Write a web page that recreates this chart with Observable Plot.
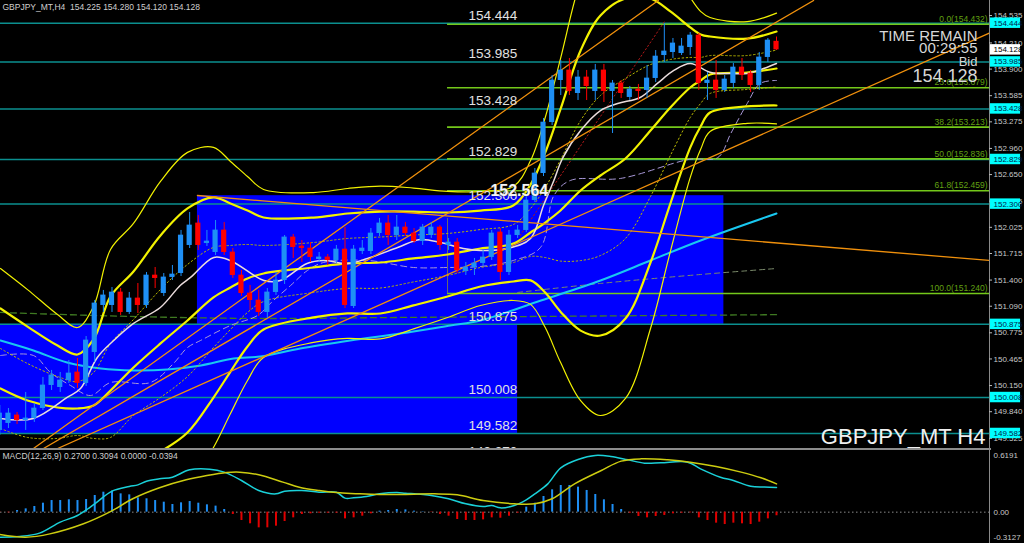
<!DOCTYPE html>
<html><head><meta charset="utf-8">
<script src="https://cdn.jsdelivr.net/npm/d3@7"></script>
<script src="https://cdn.jsdelivr.net/npm/@observablehq/plot@0.6"></script>
<style>
html,body{margin:0;padding:0;background:#000;}
#chart{position:relative;width:1024px;height:543px;overflow:hidden;background:#000;}
#chart svg{display:block;}
</style></head><body><div id="chart"></div>
<script>
// ---------- candles (H4) ----------
const opens  = [149.618,149.701,149.796,149.736,149.760,149.878,150.151,150.127,150.210,150.305,150.175,150.542,151.099,151.099,151.253,151.016,151.182,151.099,151.454,151.241,151.431,151.478,151.810,152.071,151.833,151.727,151.988,151.727,151.454,151.241,151.158,151.016,151.253,151.395,151.905,151.798,151.774,151.644,151.668,151.632,151.762,151.087,151.739,151.739,151.952,152.071,151.928,152.023,151.952,151.857,151.928,152.023,151.810,151.845,151.502,151.549,151.597,151.668,151.964,151.490,151.928,151.988,152.343,152.663,153.267,153.765,153.884,153.611,153.801,153.635,153.884,153.635,153.730,153.564,153.658,153.647,153.789,154.061,154.097,154.085,154.156,154.298,153.730,153.765,153.647,153.730,153.919,153.848,153.706,154.038,154.225];
const highs  = [149.914,149.878,149.831,150.068,149.937,150.246,150.329,150.305,150.447,150.471,150.731,151.158,151.277,151.312,151.300,151.253,151.359,151.490,151.549,151.478,151.573,151.988,152.201,152.165,151.988,152.106,152.082,151.774,151.514,151.336,151.277,151.300,151.490,151.928,151.940,151.869,151.845,151.727,151.703,151.810,152.023,151.810,151.869,152.011,152.130,152.165,152.165,152.082,152.011,152.059,152.082,152.047,151.893,151.893,151.608,151.656,151.751,151.988,152.011,151.988,152.047,152.402,152.722,153.315,153.824,154.002,154.026,153.884,153.884,153.955,153.955,153.765,153.765,153.694,153.718,153.943,154.120,154.440,154.263,154.263,154.334,154.322,153.860,154.002,153.824,153.967,154.026,153.884,154.097,154.263,154.280];
const lows   = [149.558,149.641,149.689,149.618,149.713,149.855,150.092,150.068,150.175,150.115,150.139,150.423,151.016,151.016,150.980,150.992,151.004,151.063,151.300,151.206,151.395,151.442,151.774,151.751,151.798,151.691,151.691,151.419,151.206,151.040,150.969,150.945,151.218,151.348,151.656,151.608,151.608,151.608,151.573,151.597,151.063,151.063,151.703,151.703,151.916,151.810,151.869,151.916,151.833,151.810,151.893,151.751,151.751,151.478,151.454,151.454,151.561,151.632,151.395,151.454,151.893,151.964,152.320,152.627,153.232,153.587,153.587,153.528,153.528,153.528,153.504,153.137,153.552,153.528,153.528,153.552,153.741,153.978,154.026,154.061,154.061,153.647,153.528,153.552,153.623,153.670,153.765,153.623,153.647,153.978,154.120];
const closes = [149.819,149.819,149.736,149.760,149.878,150.151,150.270,150.210,150.293,150.175,150.684,151.123,151.218,151.253,151.016,151.182,151.099,151.454,151.419,151.431,151.466,151.928,152.047,151.810,151.857,151.988,151.727,151.454,151.241,151.158,151.016,151.253,151.395,151.905,151.786,151.774,151.668,151.668,151.632,151.762,151.099,151.762,151.774,151.952,152.071,151.928,152.023,151.952,151.857,152.023,152.023,151.810,151.845,151.514,151.549,151.597,151.668,151.952,151.490,151.928,151.988,152.343,152.663,153.267,153.765,153.884,153.635,153.801,153.694,153.884,153.635,153.730,153.611,153.658,153.635,153.789,154.049,154.109,154.204,154.168,154.298,153.730,153.765,153.647,153.777,153.919,153.824,153.706,154.038,154.239,154.128];

// ---------- levels ----------
const hLevels   = [154.444,153.985,153.428,152.829,152.300,150.875,150.008,149.582];
const hiddenLevelLabel = 149.270;
const fibLevels = [154.432,153.679,153.213,152.836,152.459,151.240];
const fibPct    = ["0.0","23.6","38.2","50.0","61.8","100.0"];
const axisTicks = [154.535,154.210,153.900,153.585,153.275,152.960,152.650,152.335,152.025,151.715,151.400,151.090,150.775,150.465,150.150,149.840,149.525];
const bidPrice  = 154.128;
const bigLabel  = "152.564";
const timer     = ["TIME REMAIN", "00:29:55", "Bid", "154.128"];
// blue zones
const zoneStart = [22.9, 0.08];
const zoneEnd   = [83.9, 60.0];
const zoneTop   = [152.40, 150.875];
const zoneBot   = [150.875, 149.582];

// ---------- indicator lines (bar index, price) ----------
const maLong = [[0.08,150.684],[3.9,150.566],[7.8,150.423],[11.7,150.352],[15.5,150.329],[19.4,150.340],[23.3,150.388],[27.1,150.471],[30.2,150.494],[34.8,150.589],[40.6,150.684],[46.4,150.767],[52.2,150.862],[55.7,150.921],[62.7,151.158],[69.6,151.395],[75.4,151.632],[81.2,151.869],[90,152.189]];
const maShort = [[0.08,149.760],[3.9,149.760],[7.8,150.009],[9.35,150.115],[11.3,150.483],[13.2,150.684],[15.5,150.886],[18.6,151.075],[20.9,151.336],[22.1,151.431],[24.8,151.668],[26.7,151.632],[30.6,151.395],[32.5,151.395],[35.6,151.597],[37.5,151.632],[40.3,151.597],[42.6,151.656],[46.1,151.786],[48.7,151.881],[51.1,151.845],[53.7,151.774],[55.7,151.751],[58.8,151.774],[61.5,151.893],[63,152.284],[64.2,152.580],[65.2,152.841],[67.3,153.172],[69.6,153.409],[71.6,153.492],[74.2,153.564],[76.2,153.730],[78.1,153.884],[80,153.967],[82.4,153.860],[84.7,153.848],[86.6,153.848],[88.5,153.907],[90,153.967]];
// Bollinger band: middle line and one-sigma width read at sample bars
const bbBar   = [0.08,3.21,6.69,9.0,10.86,12.83,15.49,18.62,21.75,24.76,26.73,28.7,30.56,36.35,40.29,44.1,47.94,51.88,55.7,59.5,61.5,63.2,64.97,67.3,69.6,72.5,75.4,77.7,80.0,81.2,82.3,86.6,90.0];
const bbMid   = [150.115,149.973,149.890,149.878,149.914,150.092,150.364,150.649,150.921,151.194,151.312,151.419,151.478,151.549,151.597,151.608,151.656,151.703,151.774,151.833,151.964,152.082,152.225,152.461,152.639,152.841,153.172,153.445,153.682,153.765,153.836,153.860,153.907];
const bbSigma = [0.474,0.438,0.367,0.320,0.391,0.557,0.569,0.640,0.664,0.593,0.498,0.403,0.332,0.296,0.296,0.302,0.278,0.249,0.225,0.225,0.284,0.415,0.600,0.830,0.948,0.948,0.782,0.569,0.356,0.273,0.225,0.201,0.219];
const laggingLine = [[0.08,150.506],[3.9,150.506],[5.87,150.305],[8.19,150.151],[10.51,150.032],[12.83,150.186],[17.46,150.186],[20.13,150.412],[21.75,150.601],[23.26,150.684],[26.73,150.862],[29.86,150.980],[31.7,151.158],[33.7,151.336],[35.65,151.514],[37.5,151.608],[42.6,151.632],[47.94,151.549],[51.88,151.549],[55.7,151.561],[59.5,151.632],[62.65,151.786],[64.2,152.400],[66.1,152.580],[71.9,152.604],[79.9,152.830],[83.2,152.852],[84.7,153.137],[86.6,153.492],[88.1,153.730],[90,153.765]];
const slowDashed = [[60,151.253],[69.6,151.360],[81.2,151.466],[90,151.537]];
const longDashed = [[0.08,151.016],[15.1,150.969],[30.2,150.945],[46.4,150.957],[62.65,150.969],[90,150.990]];
const redDotted  = [[60.3,151.928],[77.1,154.476]];
const trendUp = [ [[3.9,149.404],[76.3,154.713]], [[5.06,149.404],[94.3,154.713]], [[6.7,149.404],[114.8,154.334]] ];
const trendDown = [[22.9,152.402],[114.8,151.632]];

// ---------- MACD(12,26,9) ----------
const histVals = [-0.004,-0.007,0.018,0.036,0.062,0.098,0.127,0.127,0.135,0.127,0.138,0.182,0.218,0.23,0.200,0.189,0.156,0.146,0.127,0.109,0.084,0.102,0.116,0.098,0.080,0.066,0.029,-0.025,-0.091,-0.127,-0.171,-0.171,-0.153,-0.102,-0.062,-0.025,-0.018,-0.011,-0.011,-0.011,-0.073,-0.062,-0.044,-0.018,0.011,0.018,0.029,0.025,0.011,0.004,-0.004,-0.025,-0.044,-0.080,-0.091,-0.091,-0.084,-0.062,-0.066,-0.044,-0.011,0.055,0.098,0.171,0.244,0.291,0.291,0.273,0.237,0.193,0.135,0.084,0.029,-0.011,-0.047,-0.062,-0.047,-0.036,-0.018,-0.011,-0.007,-0.062,-0.091,-0.120,-0.135,-0.120,-0.127,-0.135,-0.109,-0.073,-0.039];
const macdLine = [[0,-0.273],[2.3,-0.266],[4.6,-0.229],[7,-0.109],[9,-0.036],[11,0.091],[13,0.229],[15,0.280],[16,0.298],[17,0.338],[18.5,0.364],[20,0.382],[22,0.462],[24.3,0.469],[26,0.437],[28,0.346],[30,0.237],[32,0.200],[33,0.229],[35,0.237],[37,0.218],[39,0.218],[40,0.153],[41,0.157],[42.5,0.171],[44,0.200],[46,0.214],[47,0.207],[50,0.182],[52,0.146],[54,0.091],[56,0.062],[57,0.073],[58,0.047],[59.6,0.073],[61,0.135],[62,0.200],[63.5,0.309],[65,0.484],[67,0.575],[69,0.619],[70.8,0.608],[72.8,0.571],[74.7,0.535],[76.6,0.539],[79.7,0.546],[81.2,0.473],[83.5,0.382],[85,0.346],[87,0.284],[88.6,0.275],[90,0.270]];
const signalLine = [[0,-0.244],[3,-0.273],[5.8,-0.237],[9.7,-0.127],[12.7,0],[15.4,0.146],[18.5,0.266],[21.6,0.353],[24,0.400],[26.3,0.433],[27.8,0.437],[30,0.408],[32.8,0.328],[34.7,0.273],[37,0.237],[39.4,0.211],[41.7,0.200],[44,0.193],[46.4,0.193],[50.4,0.200],[53,0.189],[56,0.127],[59.6,0.091],[62,0.091],[64,0.146],[66.6,0.309],[69.7,0.455],[72,0.557],[74.3,0.582],[77.4,0.571],[80,0.546],[83,0.499],[85.9,0.437],[88.2,0.375],[90,0.309]];
const macdAxisTop = [0.6191, 0.00];
const macdAxisBottom = [-0.3127];
const macdTitle = "MACD(12,26,9) 0.2700 0.3094 0.0000 -0.0394";
const mainTitle = "GBPJPY_MT,H4  154.225 154.280 154.120 154.128";
const symbolLabel = "GBPJPY_MT H4";

// ---------- build ----------
const N = closes.length;
const bars = d3.range(N).map(i => ({i, o: opens[i], h: highs[i], l: lows[i], c: closes[i], up: closes[i] >= opens[i]}));
const zones = zoneStart.map((s, k) => ({x1: s, x2: zoneEnd[k], y1: zoneBot[k], y2: zoneTop[k]}));
const band = k => bbBar.map((b, j) => ({i: b, v: bbMid[j] + k * bbSigma[j]}));
const xDom = [0.08, 114.68];
const yTop = 154.713, yBot = 149.404;
const FONT = "'Liberation Sans', Arial, sans-serif";
const BLUE = "#1e8ff5", RED = "#ff0000", YEL = "#f2f200", ORANGE = "#f0900c";
const pairs = a => a.map(([i, v]) => ({i, v}));
const curve = "catmull-rom";
const fmtM = d => d === 0 ? "0.00" : d.toFixed(4);

const main = Plot.plot({
  width: 1024, height: 448,
  marginLeft: 0, marginRight: 35, marginTop: 0, marginBottom: 0,
  style: {background: "#000", fontFamily: FONT},
  x: {domain: xDom, axis: null},
  y: {domain: [yBot, yTop], axis: null},
  marks: [
    Plot.rect(zones, {x1: "x1", x2: "x2", y1: "y1", y2: "y2", fill: "#0000ff"}),
    Plot.ruleY(hLevels, {stroke: "#0b8f8f", strokeWidth: 1.5}),
    Plot.ruleY(fibLevels, {x1: 51.88, x2: xDom[1], stroke: "#74c81a", strokeWidth: 1.6}),
    Plot.ruleX([51.88], {y1: fibLevels[5], y2: 152.13, stroke: "#6a6a6a"}),
    Plot.line(pairs(longDashed), {x: "i", y: "v", stroke: "#3f7a22", strokeWidth: 1.3, strokeDasharray: "6,4", curve, clip: true}),
    Plot.line(pairs(slowDashed), {x: "i", y: "v", stroke: "#7a8a6a", strokeWidth: 1, strokeDasharray: "5,4", curve, clip: true}),
    Plot.line(pairs(laggingLine), {x: "i", y: "v", stroke: "#a898d8", strokeWidth: 1, strokeDasharray: "6,4", curve, clip: true}),
    Plot.line(pairs(redDotted), {x: "i", y: "v", stroke: "#b01818", strokeWidth: 1, strokeDasharray: "1.5,2.5", clip: true}),
    Plot.line(pairs(maLong), {x: "i", y: "v", stroke: "#19c8f0", strokeWidth: 2, curve, clip: true}),
    // Bollinger bands: ±1σ dotted, ±2σ and middle thick, ±3σ thin
    ...[-1, 1].map(k => Plot.line(band(k), {x: "i", y: "v", stroke: "#b8b800", strokeWidth: 1, strokeDasharray: "1.5,2.5", curve, clip: true})),
    ...[-3, 3].map(k => Plot.line(band(k), {x: "i", y: "v", stroke: YEL, strokeWidth: 1.2, curve, clip: true})),
    ...[-2, 0, 2].map(k => Plot.line(band(k), {x: "i", y: "v", stroke: YEL, strokeWidth: 2.2, curve, clip: true})),
    Plot.line(pairs(maShort), {x: "i", y: "v", stroke: "#eadcdc", strokeWidth: 1.5, curve, clip: true}),
    ...trendUp.map(t => Plot.line(pairs(t), {x: "i", y: "v", stroke: ORANGE, strokeWidth: 1.3, clip: true})),
    Plot.line(pairs(trendDown), {x: "i", y: "v", stroke: ORANGE, strokeWidth: 1.3, clip: true}),
    // candles
    Plot.ruleX(bars, {x: "i", y1: "l", y2: "h", stroke: d => d.up ? BLUE : RED, strokeWidth: 1}),
    Plot.rect(bars, {x1: d => d.i - 0.3, x2: d => d.i + 0.3, y1: d => Math.min(d.o, d.c), y2: d => Math.max(d.o, d.c) + 0.004, fill: d => d.up ? BLUE : RED}),
    // level labels on chart
    Plot.text([...hLevels, hiddenLevelLabel], {x: 54.3, y: d => d, text: d => d.toFixed(3), dy: -8, textAnchor: "start", fill: "#e2e2e2", fontSize: 13.5, fontFamily: FONT}),
    Plot.text([fibLevels[4]], {x: 56.85, y: d => d, text: () => bigLabel, textAnchor: "start", fill: "#f4f4f4", stroke: "#333", strokeWidth: 0.6, fontSize: 16, fontWeight: "bold", fontFamily: FONT, ariaLabel: "big"}),
    Plot.text(fibLevels, {x: xDom[1], y: d => d, text: (d, k) => `${fibPct[k]}(${d.toFixed(3)})`, dx: -2, dy: -5, textAnchor: "end", fill: "#62a012", fontSize: 8.5, fontFamily: FONT, ariaLabel: "fib"}),
    // timer block
    Plot.text([timer[0]], {x: xDom[1], y: yTop, dx: -12, dy: 35.5, text: d => d, textAnchor: "end", fill: "#d8d8d8", fontSize: 15, fontFamily: FONT, ariaLabel: "t0"}),
    Plot.text([timer[1]], {x: xDom[1], y: yTop, dx: -12, dy: 47.5, text: d => d, textAnchor: "end", fill: "#d8d8d8", fontSize: 15, fontFamily: FONT, ariaLabel: "t1"}),
    Plot.text([timer[2]], {x: xDom[1], y: yTop, dx: -12, dy: 61.5, text: d => d, textAnchor: "end", fill: "#d8d8d8", fontSize: 13, fontFamily: FONT, ariaLabel: "t2"}),
    Plot.text([timer[3]], {x: xDom[1], y: yTop, dx: -12, dy: 76, text: d => d, textAnchor: "end", fill: "#d8d8d8", fontSize: 18, fontFamily: FONT, ariaLabel: "t3"}),
    Plot.text([symbolLabel], {x: xDom[1], y: yBot, dx: -4, dy: -12, text: d => d, textAnchor: "end", fill: "#f0f0f0", fontSize: 22, fontFamily: FONT}),
    Plot.text([mainTitle], {x: xDom[0], y: yTop, dx: 2, dy: 7, text: d => d, textAnchor: "start", fill: "#cfcfcf", fontSize: 8.5, fontFamily: FONT, ariaLabel: "title"}),
    // right price axis
    Plot.ruleX([xDom[1]], {stroke: "#8a8a8a", strokeWidth: 1}),
    Plot.ruleY(axisTicks, {x1: xDom[1], x2: xDom[1] + 0.35, stroke: "#bbb"}),
    Plot.text(axisTicks, {x: xDom[1], y: d => d, text: d => d.toFixed(3), dx: 4, textAnchor: "start", fill: "#c8c8c8", fontSize: 8, fontFamily: FONT, ariaLabel: "ax"}),
    Plot.rect(hLevels, {x1: xDom[1] + 0.1, x2: xDom[1] + 3.6, y1: d => d - 0.062, y2: d => d + 0.062, fill: "#00ffff"}),
    Plot.text(hLevels, {x: xDom[1], y: d => d, text: d => d.toFixed(3), dx: 4, textAnchor: "start", fill: "#001a4a", fontSize: 8, fontFamily: FONT, ariaLabel: "ax"}),
    Plot.rect([bidPrice], {x1: xDom[1] + 0.1, x2: xDom[1] + 3.6, y1: d => d - 0.062, y2: d => d + 0.062, fill: "#ffffff"}),
    Plot.text([bidPrice], {x: xDom[1], y: d => d, text: d => d.toFixed(3), dx: 4, textAnchor: "start", fill: "#000", fontSize: 8, fontFamily: FONT, ariaLabel: "ax"})
  ]
});

const hist = histVals.map((v, i) => ({i, v}));
const macd = Plot.plot({
  width: 1024, height: 95,
  marginLeft: 0, marginRight: 35, marginTop: 0, marginBottom: 0,
  style: {background: "#000", fontFamily: FONT},
  x: {domain: xDom, axis: null},
  y: {domain: [-0.342, 0.695], axis: null},
  marks: [
    Plot.frame({anchor: "top", stroke: "#8c8c8c", strokeWidth: 3}),
    Plot.ruleY([0], {stroke: "#8a8a8a", strokeDasharray: "1.5,2.5"}),
    Plot.ruleX(hist, {x: "i", y1: 0, y2: "v", stroke: d => d.v >= 0 ? BLUE : "#e00000", strokeWidth: 2}),
    Plot.line(pairs(macdLine), {x: "i", y: "v", stroke: "#1ad0d8", strokeWidth: 1.5, curve}),
    Plot.line(pairs(signalLine), {x: "i", y: "v", stroke: "#cccc10", strokeWidth: 1.5, curve}),
    Plot.text([macdTitle], {x: xDom[0], y: 0.695, dx: 2, dy: 8, text: d => d, textAnchor: "start", fill: "#cfcfcf", fontSize: 8.5, fontFamily: FONT, ariaLabel: "mtitle"}),
    Plot.ruleX([xDom[1]], {stroke: "#8a8a8a"}),
    Plot.text(macdAxisTop, {x: xDom[1], y: d => d, text: fmtM, dx: 4, textAnchor: "start", fill: "#c8c8c8", fontSize: 8, fontFamily: FONT}),
    Plot.text(macdAxisBottom, {x: xDom[1], y: d => d, text: fmtM, dx: 4, dy: -3, textAnchor: "start", fill: "#c8c8c8", fontSize: 8, fontFamily: FONT})
  ]
});

// condense texts to the reference widths (MT4 fonts are narrow)
function fit(svg, label, width) {
  svg.querySelectorAll(`g[aria-label="${label}"] text`).forEach(t => {
    const w = typeof width === "function" ? width(t.textContent) : width;
    t.setAttribute("textLength", w);
    t.setAttribute("lengthAdjust", "spacingAndGlyphs");
  });
}
fit(main, "t0", 80); fit(main, "t1", 59); fit(main, "t2", 19); fit(main, "t3", 56);
fit(main, "title", 155); fit(main, "ax", 26); fit(main, "big", 62);
fit(main, "fib", s => s.length * 3.3);
fit(macd, "mtitle", 140);

const root = document.getElementById("chart");
root.appendChild(main);
root.appendChild(macd);
</script>
</body></html>
